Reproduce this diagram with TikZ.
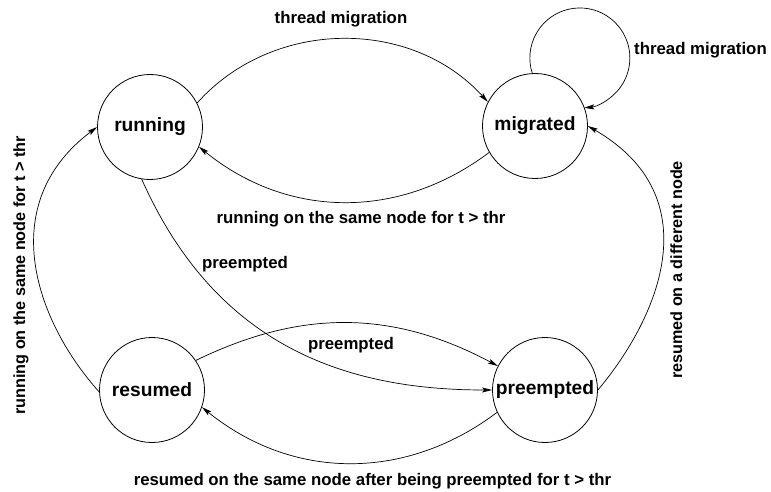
\documentclass[tikz,border=0pt]{standalone}
\usepackage{fontspec}
\setmainfont{Liberation Sans}
\usetikzlibrary{arrows.meta}
\begin{document}
\begin{tikzpicture}[x=1pt,y=1pt,
  state/.style={circle,draw,line width=0.8pt,minimum size=105pt,inner sep=0pt,
    font=\fontsize{19.2}{22}\selectfont\bfseries},
  lbl/.style={anchor=base,inner sep=0pt,font=\fontsize{16.8}{20}\selectfont\bfseries},
  vlbl/.style={anchor=base,inner sep=0pt,rotate=90,font=\fontsize{16.2}{20}\selectfont\bfseries},
  edge/.style={line width=0.7pt,-{Stealth[length=10pt,width=5pt,inset=2pt]}}]
\useasboundingbox (0,0) rectangle (771,-492);
\node[state] (run) at (150,-127) {running};
\node[state] (mig) at (535,-126) {migrated};
\node[state] (res) at (152,-390) {resumed};
\node[state] (pre) at (545,-390) {preempted};

\draw[edge] (run.27) to[bend left=48] (mig.153);
\draw[edge] (mig.210) to[bend left=38] (run.338);
\draw[edge] (res.34) to[bend left=27] (pre.153);
\draw[edge] (pre.205) to[bend left=38] (res.341);
\draw[edge] (run.261) .. controls +(-66:180) and +(-150,0) .. (pre.west);
\draw[edge] (res.182) .. controls +(132:93) and +(217:130) .. (run.180);
\draw[edge] (pre.0) .. controls +(50:96) and +(-30:141) .. (mig.0);
\draw[edge] (mig.93) arc[start angle=197.7, end angle=-85, radius=50];

\node[lbl] (l1) at (341,-23.5) {thread migration};
\node[lbl] (l2) at (700.5,-55) {thread migration};
\node[lbl] (l3) at (361,-223) {running on the same node for t > thr};
\node[lbl] (l4) at (245,-268) {preempted};
\node[lbl] (l5) at (351,-349.5) {preempted};
\node[lbl] (l6) at (372.5,-485) {resumed on the same node after being preempted for t > thr};
\node[vlbl] (l7) at (25,-275.5) {running on the same node for t > thr};
\node[vlbl] (l8) at (682,-270) {resumed on a different node};
\end{tikzpicture}
\end{document}
